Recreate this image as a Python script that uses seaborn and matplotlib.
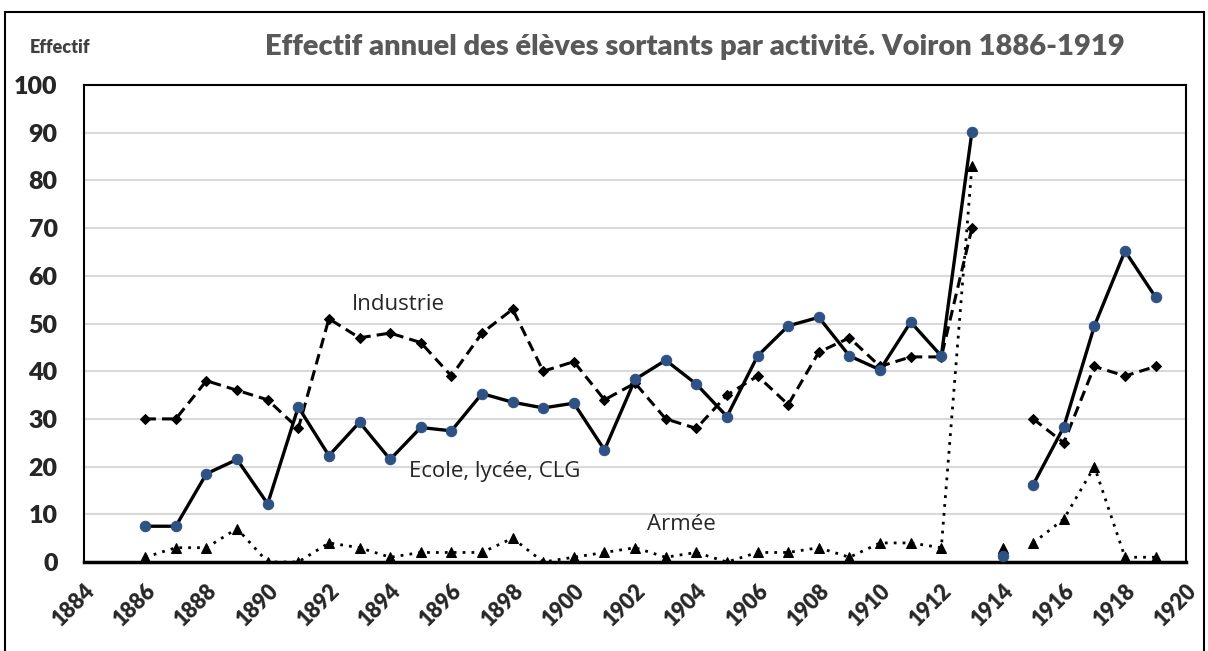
import seaborn as sns
import matplotlib.pyplot as plt
import pandas as pd
import numpy as np
from matplotlib.patches import Rectangle

years = list(range(1886, 1920))

ecole = [7.5, 7.5, 18.5, 21.5, 12.2, 32.5, 22.3, 29.3, 21.5, 28.2, 27.5, 35.3,
         33.5, 32.3, 33.3, 23.5, 38.3, 42.3, 37.3, 30.5, 43.2, 49.5, 51.3, 43.2,
         40.3, 50.3, 43.2, 90.2, 1.3, 16.2, 28.3, 49.5, 65.2, 55.5]
industrie = [30, 30, 38, 36, 34, 28, 51, 47, 48, 46, 39, 48, 53, 40, 42, 34,
             37.5, 30, 28, 35, 39, 33, 44, 47, 41, 43, 43, 70, 0, 30, 25, 41, 39, 41]
armee = [1, 3, 3, 7, 0, 0, 4, 3, 1, 2, 2, 2, 5, 0, 1, 2, 3, 1, 2, 0, 2, 2, 3, 1,
         4, 4, 3, 83, 3, 4, 9, 20, 1, 1]

# la courbe est coupée après 1913 (1914 isolé)
periode = ['a' if y <= 1913 else ('b' if y == 1914 else 'c') for y in years]

df = pd.DataFrame({'annee': years, 'ecole': ecole, 'industrie': industrie,
                   'armee': armee, 'periode': periode})

sns.set_style('white')
plt.rcParams['font.family'] = ['Lato', 'DejaVu Sans']

fig = plt.figure(figsize=(12.08, 6.51), dpi=100)
ax = fig.add_axes([0.0695, 0.1367, 0.9125, 0.7327])

sns.lineplot(data=df, x='annee', y='armee', units='periode', estimator=None,
             ax=ax, color='black', lw=2, linestyle=(0, (1, 2.2)),
             marker='^', markersize=7, markeredgecolor='black',
             markerfacecolor='black', zorder=3)
sns.lineplot(data=df, x='annee', y='industrie', units='periode', estimator=None,
             ax=ax, color='black', lw=2.2, linestyle=(0, (3.5, 2)),
             marker='D', markersize=5, markeredgecolor='black',
             markerfacecolor='black', zorder=4)
sns.lineplot(data=df, x='annee', y='ecole', units='periode', estimator=None,
             ax=ax, color='black', lw=2.4, marker='o', markersize=7.5,
             markeredgecolor='#2f5284', markerfacecolor='#2f5284', zorder=5)

ax.set_xlim(1884, 1920)
ax.set_ylim(0, 100)
ax.set_xticks(range(1884, 1921, 2))
ax.set_yticks(range(0, 101, 10))
ax.set_xlabel('')
ax.set_ylabel('')
for v in range(10, 100, 10):
    ax.axhline(v, color='#d9d9d9', lw=1.5, zorder=0)

ax.tick_params(axis='x', direction='out', length=6, width=1.5, color='black',
               pad=7, labelsize=15.5)
ax.tick_params(axis='y', length=0, pad=19, labelsize=18)
for lab in ax.get_xticklabels():
    lab.set_rotation(45)
    lab.set_ha('right')
    lab.set_rotation_mode('anchor')
    lab.set_fontweight('heavy')
for lab in ax.get_yticklabels():
    lab.set_fontweight('heavy')

for side in ['top', 'right', 'left']:
    ax.spines[side].set_color('black')
    ax.spines[side].set_linewidth(1.5)
ax.spines['bottom'].set_color('black')
ax.spines['bottom'].set_linewidth(2.5)

lab_font = ['Open Sans', 'DejaVu Sans']
ax.text(1892.75, 52.8, 'Industrie', fontsize=16, family=lab_font)
ax.text(1894.6, 17.8, 'Ecole, lycée, CLG', fontsize=16, family=lab_font)
ax.text(1902.4, 6.7, 'Armée', fontsize=16, family=lab_font)

fig.text(0.025, 0.918, 'Effectif', fontsize=13, fontweight='heavy', color='#404040')
fig.text(0.575, 0.915, 'Effectif annuel des élèves sortants par activité. Voiron 1886-1919',
         fontsize=21, fontweight='heavy', color='#595959', ha='center')

fig.patches.append(Rectangle((0.004, -0.1), 0.993, 1.082, transform=fig.transFigure,
                             fill=False, edgecolor='black', lw=1.5))

fig.savefig('out.png', dpi=100)
